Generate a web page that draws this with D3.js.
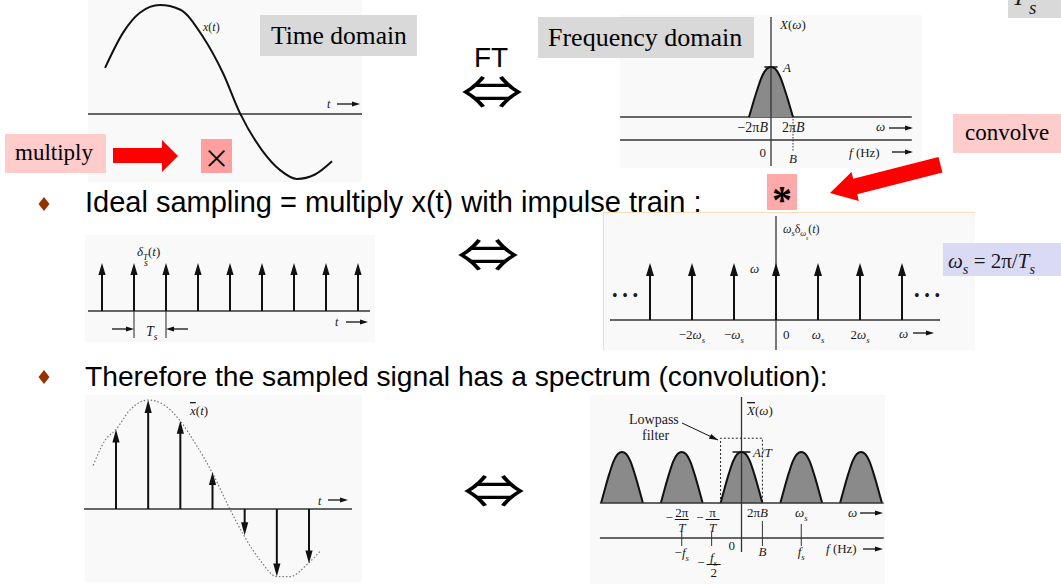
<!DOCTYPE html>
<html>
<head>
<meta charset="utf-8">
<script src="https://cdn.jsdelivr.net/npm/d3@7"></script>
<style>
  body { margin: 0; background: #fff; }
  svg { display: block; }
  .fig { font-family: "Liberation Serif", "Times New Roman", serif; fill: #1a1a1a; }
  .ax { stroke: #333; stroke-width: 1.3; fill: none; }
  .curve { stroke: #111; stroke-width: 2; fill: none; }
  .bullet { font-family: "Liberation Sans", Arial, sans-serif; fill: #000; }
  .box { font-family: "Liberation Serif", "Times New Roman", serif; fill: #000; }
</style>
</head>
<body>
<script>
// ---- values ----
// x(t), top left (t in sampling periods, value relative to the peak)
var sigT = [0.53, 1.09, 1.61, 2.23, 2.85, 3.57, 4.19, 4.71, 5.40, 5.96, 6.48, 7.04, 7.57];
var sigV = [0.42, 0.74, 0.92, 0.99, 0.95, 0.70, 0.37, 0.01, -0.33, -0.51, -0.59, -0.55, -0.43];
// band-limited spectrum X(w): w in units of 2*pi*B, value relative to A
var bandW = [-1, -0.8, -0.6, -0.4, -0.2, 0, 0.2, 0.4, 0.6, 0.8, 1];
var bandV = [0, 0.3, 0.58, 0.82, 0.96, 1, 0.96, 0.82, 0.58, 0.3, 0];
// impulse train delta_Ts(t)
var trainK = [0, 1, 2, 3, 4, 5, 6, 7, 8];
// its spectrum, multiples of w_s
var combK = [-3, -2, -1, 0, 1, 2, 3];
// sampled signal
var sampT = [0, 1, 2, 3, 4, 5, 6];
var sampV = [0.73, 1.0, 0.81, 0.34, -0.24, -0.62, -0.50];
var envT = [-0.71, -0.34, 0, 0.44, 1, 1.52, 1.99, 2.49, 2.98, 3.54, 3.95, 4.48, 5, 5.41, 5.97, 6.34];
var envV = [0.40, 0.63, 0.73, 0.91, 1.0, 0.95, 0.81, 0.59, 0.34, 0, -0.23, -0.47, -0.62, -0.62, -0.50, -0.39];
// sampled spectrum: replicas at k*w_s, half width 2*pi*B/w_s
var lobeK = [-2, -1, 0, 1, 2];
var lobeHalf = 0.35;

var svg = d3.select("body").append("svg").attr("width", 1061).attr("height", 584);

function rich(x, y, parts, size, anchor) {
  var t = svg.append("text").attr("class", "fig").attr("x", x).attr("y", y)
    .attr("font-size", size).attr("text-anchor", anchor || "start");
  var lvl = 0;
  parts.forEach(function(p) {
    if (typeof p === "string") p = {t: p};
    var L = p.s || 0;
    var ts = t.append("tspan").text(p.t);
    if (L !== lvl) ts.attr("dy", ((L - lvl) * size * 0.28).toFixed(1));
    if (p.i) ts.attr("font-style", "italic");
    if (L > 0) ts.attr("font-size", (size * Math.pow(0.68, L)).toFixed(1));
    if (p.o) ts.attr("text-decoration", "overline");
    if (p.dx) ts.attr("dx", p.dx);
    lvl = L;
  });
  return t;
}

function hArrow(x1, x2, y, len, hw) {
  len = len || 8; hw = hw || 2.6;
  var dir = x2 > x1 ? 1 : -1;
  svg.append("line").attr("x1", x1).attr("x2", x2 - dir * len * 0.7).attr("y1", y).attr("y2", y)
    .attr("stroke", "#111").attr("stroke-width", 1.3);
  svg.append("path").attr("fill", "#111")
    .attr("d", "M" + x2 + "," + y + "L" + (x2 - dir * len) + "," + (y - hw) + "L" + (x2 - dir * len) + "," + (y + hw) + "Z");
}

function impulse(x, y0, y1, hl, hw) {
  var dir = y1 < y0 ? -1 : 1;
  svg.append("line").attr("x1", x).attr("x2", x).attr("y1", y0).attr("y2", y1 - dir * hl * 0.7)
    .attr("stroke", "#111").attr("stroke-width", 2);
  svg.append("path").attr("fill", "#111")
    .attr("d", "M" + x + "," + y1 + "L" + (x - hw) + "," + (y1 - dir * hl) + "L" + (x + hw) + "," + (y1 - dir * hl) + "Z");
}

svg.append("defs").append("marker").attr("id", "ptr").attr("viewBox", "0 -4 10 8")
  .attr("refX", 10).attr("refY", 0).attr("markerWidth", 9).attr("markerHeight", 7)
  .attr("markerUnits", "userSpaceOnUse").attr("orient", "auto")
  .append("path").attr("d", "M0,-3L10,0L0,3Z").attr("fill", "#111");

// picture backgrounds
[[88, 0, 274, 182], [620, 15, 302, 153], [85, 235, 290, 107], [603, 212, 372, 138], [85, 395, 277, 187], [590, 395, 295, 189]]
  .forEach(function(r) {
    svg.append("rect").attr("x", r[0]).attr("y", r[1]).attr("width", r[2]).attr("height", r[3]).attr("fill", "#f9f9f9");
  });

// ---------- top left: x(t) ----------
var xA = d3.scaleLinear().domain([0, 8.5]).range([88, 362]);
var yA = d3.scaleLinear().domain([-1, 1]).range([224, 4]);
svg.append("line").attr("class", "ax").attr("x1", xA(0)).attr("x2", xA(8.5)).attr("y1", yA(0)).attr("y2", yA(0));
svg.append("path").attr("class", "curve").datum(d3.zip(sigT, sigV))
  .attr("d", d3.line().x(function(d) { return xA(d[0]); }).y(function(d) { return yA(d[1]); }).curve(d3.curveMonotoneX));
rich(203, 31, [{t: "x", i: 1}, "(", {t: "t", i: 1}, ")"], 12);
rich(327, 108, [{t: "t", i: 1}], 12);
hArrow(337, 360, 104);

// ---------- top right: X(w) ----------
var xB = d3.scaleLinear().domain([-7, 6.5]).range([617, 914]);
var yB = d3.scaleLinear().domain([0, 1]).range([117, 67]);
svg.append("line").attr("class", "ax").attr("x1", xB(-6.86)).attr("x2", xB(6.4)).attr("y1", yB(0)).attr("y2", yB(0));
svg.append("line").attr("class", "ax").attr("x1", xB(-6.86)).attr("x2", xB(6.4)).attr("y1", 140).attr("y2", 140);
svg.append("path").datum(d3.zip(bandW, bandV))
  .attr("d", d3.line().x(function(d) { return xB(d[0]); }).y(function(d) { return yB(d[1]); }).curve(d3.curveMonotoneX))
  .attr("fill", "#8a8a8a").attr("stroke", "#111").attr("stroke-width", 2);
svg.append("line").attr("class", "ax").attr("x1", xB(0)).attr("x2", xB(0)).attr("y1", 17).attr("y2", 166);
svg.append("line").attr("stroke", "#111").attr("stroke-width", 1.5)
  .attr("x1", xB(-0.3)).attr("x2", xB(0.3)).attr("y1", yB(1)).attr("y2", yB(1));
svg.append("line").attr("stroke", "#333").attr("stroke-width", 1).attr("stroke-dasharray", "1.5,1.5")
  .attr("x1", xB(1)).attr("x2", xB(1)).attr("y1", 119).attr("y2", 151);
rich(780, 29, [{t: "X", i: 1}, "(", {t: "ω", i: 1}, ")"], 13);
rich(783, 72, [{t: "A", i: 1}], 13);
rich(768, 132, ["−2π", {t: "B", i: 1}], 14, "end");
rich(782, 132, ["2π", {t: "B", i: 1}], 14);
rich(876, 131, [{t: "ω", i: 1}], 13);
hArrow(889, 913, 128);
rich(766, 157, ["0"], 13, "end");
rich(793, 163, [{t: "B", i: 1}], 13, "middle");
rich(849, 157, [{t: "f", i: 1}, " (Hz)"], 13);
hArrow(892, 913, 152);

// ---------- middle left: impulse train ----------
var xC = d3.scaleLinear().domain([0, 8]).range([102, 358]);
var yC = d3.scaleLinear().domain([0, 1]).range([311, 263]);
svg.append("line").attr("class", "ax").attr("x1", 88).attr("x2", 370).attr("y1", yC(0)).attr("y2", yC(0));
trainK.forEach(function(k) { impulse(xC(k), yC(0), yC(1), 12, 3.6); });
rich(137, 256, [{t: "δ", i: 1}, {t: "T", i: 1, s: 1}, "(", {t: "t", i: 1}, ")"], 13);
rich(144, 266, [{t: "s", i: 1}], 10);
rich(335, 326, [{t: "t", i: 1}], 12);
hArrow(346, 368, 322);
[1, 2].forEach(function(k) {
  svg.append("line").attr("stroke", "#222").attr("stroke-width", 1)
    .attr("x1", xC(k)).attr("x2", xC(k)).attr("y1", yC(0)).attr("y2", 338);
});
hArrow(xC(1) - 22, xC(1), 329);
hArrow(xC(2) + 22, xC(2), 329);
rich(146, 336, [{t: "T", i: 1}, {t: "s", i: 1, s: 1}], 14);

// ---------- middle right: w_s * delta_ws(w) ----------
svg.append("line").attr("stroke", "#f0dfbd").attr("x1", 603).attr("x2", 975).attr("y1", 212.5).attr("y2", 212.5);
svg.append("line").attr("stroke", "#f0dfbd").attr("x1", 603.5).attr("x2", 603.5).attr("y1", 212).attr("y2", 350);
var xD = d3.scaleLinear().domain([-4, 4]).range([608, 944]);
var yD = d3.scaleLinear().domain([0, 1]).range([320, 263]);
svg.append("line").attr("class", "ax").attr("x1", 610).attr("x2", 940).attr("y1", yD(0)).attr("y2", yD(0));
svg.append("line").attr("class", "ax").attr("x1", xD(0)).attr("x2", xD(0)).attr("y1", 216).attr("y2", 350);
combK.forEach(function(k) { impulse(xD(k), yD(0), yD(1), 13, 4); });
rich(783, 233, [{t: "ω", i: 1}, {t: "s", i: 1, s: 1}, {t: "δ", s: 0}, {t: "ω", i: 1, s: 1}, {t: "s", i: 1, s: 2}, {t: "(", s: 0}, {t: "t", i: 1}, ")"], 12);
rich(750, 273, [{t: "ω", i: 1}], 13);
svg.append("text").attr("class", "fig").attr("x", 612).attr("y", 301).attr("font-size", 16)
  .attr("letter-spacing", 4.6).text("•••");
svg.append("text").attr("class", "fig").attr("x", 914).attr("y", 301).attr("font-size", 16)
  .attr("letter-spacing", 4.6).text("•••");
rich(xD(-2), 339, ["−2", {t: "ω", i: 1}, {t: "s", i: 1, s: 1}], 13, "middle");
rich(xD(-1), 339, ["−", {t: "ω", i: 1}, {t: "s", i: 1, s: 1}], 13, "middle");
rich(xD(0) + 7, 339, ["0"], 13);
rich(xD(1), 339, [{t: "ω", i: 1}, {t: "s", i: 1, s: 1}], 13, "middle");
rich(xD(2), 339, ["2", {t: "ω", i: 1}, {t: "s", i: 1, s: 1}], 13, "middle");
rich(899, 338, [{t: "ω", i: 1}], 13);
hArrow(913, 934, 333);

// ---------- bottom left: sampled signal ----------
var xE = d3.scaleLinear().domain([0, 6]).range([116, 309]);
var yE = d3.scaleLinear().domain([0, 1]).range([509, 400]);
svg.append("path").datum(d3.zip(envT, envV))
  .attr("d", d3.line().x(function(d) { return xE(d[0]); }).y(function(d) { return yE(d[1]); }).curve(d3.curveMonotoneX))
  .attr("fill", "none").attr("stroke", "#777").attr("stroke-width", 1.2).attr("stroke-dasharray", "1.5,2");
svg.append("line").attr("class", "ax").attr("x1", 84).attr("x2", 352).attr("y1", yE(0)).attr("y2", yE(0));
sampT.forEach(function(t, i) { impulse(xE(t), yE(0), yE(sampV[i]), 13, 3.6); });
rich(190, 415, [{t: "x", i: 1, o: 1}, "(", {t: "t", i: 1}, ")"], 13);
rich(318, 505, [{t: "t", i: 1}], 12);
hArrow(328, 348, 500);

// ---------- bottom right: sampled spectrum ----------
var xF = d3.scaleLinear().domain([-2, 2]).range([622, 861]);
var yF = d3.scaleLinear().domain([0, 1]).range([503, 452]);
var lobeLine = d3.line().curve(d3.curveMonotoneX);
lobeK.forEach(function(k) {
  var pts = d3.zip(bandW, bandV).map(function(p) { return [xF(k + p[0] * lobeHalf), yF(p[1])]; });
  svg.append("path").attr("d", lobeLine(pts)).attr("fill", "#8a8a8a").attr("stroke", "#111").attr("stroke-width", 2);
});
svg.append("line").attr("class", "ax").attr("x1", xF(-2.37)).attr("x2", xF(2.38)).attr("y1", yF(0)).attr("y2", yF(0));
svg.append("line").attr("class", "ax").attr("x1", xF(-2.37)).attr("x2", xF(2.38)).attr("y1", 538).attr("y2", 538);
svg.append("line").attr("class", "ax").attr("x1", xF(0)).attr("x2", xF(0)).attr("y1", 397).attr("y2", 552);
// lowpass filter
svg.append("path").attr("fill", "none").attr("stroke", "#222").attr("stroke-width", 1).attr("stroke-dasharray", "2,2")
  .attr("d", "M" + xF(-lobeHalf) + "," + yF(0) + "V" + yF(1.27) + "H" + xF(lobeHalf) + "V" + yF(0));
svg.append("line").attr("stroke", "#111").attr("stroke-width", 1.5)
  .attr("x1", xF(-0.15)).attr("x2", xF(0.15)).attr("y1", yF(1)).attr("y2", yF(1));
rich(753, 457, [{t: "A", i: 1}, "/", {t: "T", i: 1}], 13);
rich(747, 415, [{t: "X", i: 1, o: 1}, "(", {t: "ω", i: 1}, ")"], 13);
rich(629, 424, ["Lowpass"], 14);
rich(642, 440, ["filter"], 14);
svg.append("line").attr("stroke", "#111").attr("stroke-width", 1).attr("marker-end", "url(#ptr)")
  .attr("x1", 682).attr("y1", 423).attr("x2", 718).attr("y2", 440);
// f ticks
[[-1, 532], [-0.5, 532], [lobeHalf, 521], [1, 524]].forEach(function(t) {
  svg.append("line").attr("stroke", "#333").attr("stroke-width", 1)
    .attr("x1", xF(t[0])).attr("x2", xF(t[0])).attr("y1", t[1]).attr("y2", 546);
});
function frac(cx, y, num, den, size, minus) {
  if (minus) rich(cx - 9, y + 5, ["−"], size, "end");
  rich(cx, y, num, size, "middle");
  svg.append("line").attr("stroke", "#111").attr("stroke-width", 1)
    .attr("x1", cx - 7).attr("x2", cx + 7).attr("y1", y + 2.5).attr("y2", y + 2.5);
  rich(cx, y + 15, den, size, "middle");
}
frac(xF(-1), 517, ["2π"], [{t: "T", i: 1}], 13, true);
frac(xF(-0.5) + 1, 517, ["π"], [{t: "T", i: 1}], 13, true);
rich(747, 517, ["2π", {t: "B", i: 1}], 13);
rich(xF(1), 517, [{t: "ω", i: 1}, {t: "s", i: 1, s: 1}], 13, "middle");
rich(848, 517, [{t: "ω", i: 1}], 13);
hArrow(860, 883, 513);
rich(xF(-1), 557, ["−", {t: "f", i: 1}, {t: "s", i: 1, s: 1}], 13, "middle");
frac(xF(-0.5) + 2, 562, [{t: "f", i: 1}, {t: "s", i: 1, s: 1}], ["2"], 13, true);
rich(735, 550, ["0"], 13, "end");
rich(xF(lobeHalf), 556, [{t: "B", i: 1}], 13, "middle");
rich(xF(1), 556, [{t: "f", i: 1}, {t: "s", i: 1, s: 1}], 13, "middle");
rich(826, 553, [{t: "f", i: 1}, " (Hz)"], 13);
hArrow(863, 883, 549);

// ---------- slide text and call-outs ----------
svg.append("rect").attr("x", 1008).attr("y", 0).attr("width", 53).attr("height", 18).attr("fill", "#d9d9d9");
rich(1012, 5, [{t: "T", i: 1}], 24);
rich(1029, 14, [{t: "s", i: 1}], 19);

svg.append("rect").attr("x", 260).attr("y", 15).attr("width", 157).attr("height", 41).attr("fill", "#d9d9d9");
svg.append("text").attr("class", "box").attr("x", 271).attr("y", 44).attr("font-size", 25.5).text("Time domain");
svg.append("rect").attr("x", 538).attr("y", 17).attr("width", 216).attr("height", 41).attr("fill", "#d9d9d9");
svg.append("text").attr("class", "box").attr("x", 548).attr("y", 46).attr("font-size", 26).text("Frequency domain");

svg.append("text").attr("x", 491).attr("y", 67).attr("text-anchor", "middle")
  .attr("font-family", "Liberation Sans, Arial, sans-serif").attr("font-size", 28).text("FT");
// the double arrow, flattened to the slide's proportions
[[492, 93], [488, 256], [494, 492]].forEach(function(p) {
  svg.append("text").attr("transform", "translate(" + p[0] + "," + p[1] + ") scale(0.92,0.68)")
    .attr("x", 0).attr("y", 23).attr("text-anchor", "middle")
    .attr("font-family", "Noto Sans CJK JP, sans-serif").attr("font-size", 68).text("⇔");
});

svg.append("rect").attr("x", 5).attr("y", 134).attr("width", 101).attr("height", 39).attr("fill", "#ffcccc");
svg.append("text").attr("class", "box").attr("x", 15).attr("y", 160).attr("font-size", 23).text("multiply");
svg.append("path").attr("fill", "#ff0000").attr("d", "M113,148H162V140L178,156L162,172V163H113Z");
svg.append("rect").attr("x", 201).attr("y", 139).attr("width", 31).attr("height", 34).attr("fill", "#ff9f9f");
svg.append("text").attr("x", 216.5).attr("y", 168).attr("text-anchor", "middle")
  .attr("font-family", "Noto Sans CJK JP, sans-serif").attr("font-size", 26).text("×");

svg.append("rect").attr("x", 953).attr("y", 114).attr("width", 108).attr("height", 39).attr("fill", "#ffcccc");
svg.append("text").attr("class", "box").attr("x", 965).attr("y", 140).attr("font-size", 23).text("convolve");
svg.append("path").attr("fill", "#ff0000").attr("transform", "translate(830,193) rotate(-14.3)")
  .attr("d", "M0,0L26,-15V-8H114V8H26V15Z");
svg.append("rect").attr("x", 767).attr("y", 174).attr("width", 30).attr("height", 36).attr("fill", "#ffaaaa");
svg.append("text").attr("x", 782).attr("y", 213).attr("text-anchor", "middle").attr("font-weight", "bold")
  .attr("font-family", "Liberation Serif, serif").attr("font-size", 40).text("*");

svg.append("rect").attr("x", 943).attr("y", 243).attr("width", 118).attr("height", 33).attr("fill", "#dadaf5");
rich(948, 268, [{t: "ω", i: 1}, {t: "s", i: 1, s: 1}, {t: " = 2π/", s: 0}, {t: "T", i: 1}, {t: "s", i: 1, s: 1}], 21);

// bullets
[[204, "Ideal sampling = multiply x(t) with impulse train :", 212, 29],
 [377, "Therefore the sampled signal has a spectrum (convolution):", 386, 28.2]].forEach(function(b) {
  svg.append("path").attr("fill", "#943200")
    .attr("d", "M44," + (b[0] - 7) + "L49.5," + b[0] + "L44," + (b[0] + 7) + "L38.5," + b[0] + "Z");
  svg.append("text").attr("class", "bullet").attr("x", 85).attr("y", b[2]).attr("font-size", b[3]).text(b[1]);
});
</script>
</body>
</html>
